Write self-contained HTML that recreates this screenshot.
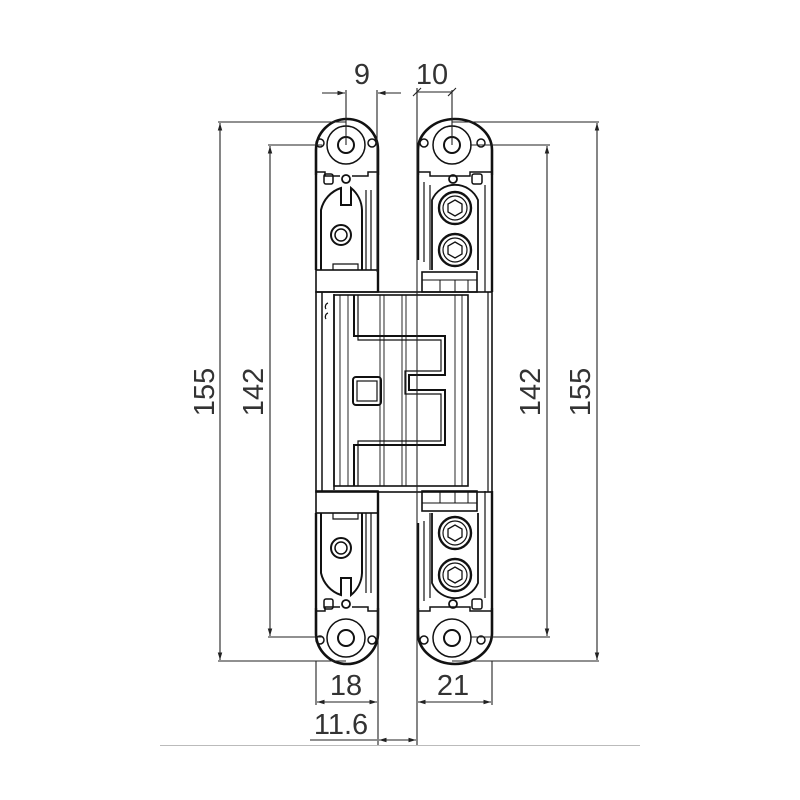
<!DOCTYPE html>
<html><head><meta charset="utf-8"><style>
html,body{margin:0;padding:0;background:#fff}
svg{display:block}
text{font-family:"Liberation Sans",sans-serif;fill:#333}
</style></head><body>
<svg width="800" height="800" viewBox="0 0 800 800" xmlns="http://www.w3.org/2000/svg">
<defs>
<marker id="a" viewBox="0 0 10 10" refX="10" refY="5" markerWidth="7" markerHeight="7" orient="auto-start-reverse"><path d="M0,2 L10,5 L0,8 z" fill="#222"/></marker>
<g id="top" fill="none" stroke="#111">
  <path d="M316,175 L316,150 A31,31 0 0 1 378,150 L378,175" stroke-width="2.6"/>
  <circle cx="346" cy="145" r="19" stroke-width="1.5"/>
  <circle cx="346" cy="145" r="8" stroke-width="2"/>
  <circle cx="320" cy="143" r="4" stroke-width="1.5"/>
  <circle cx="372" cy="143" r="4" stroke-width="1.5"/>
  <circle cx="346" cy="179" r="4" stroke-width="1.8"/>
  <path d="M316,172 L325,172 L325,176 L340,176 M352,176 L368,176 L368,172 L378,172" stroke-width="1.5"/>
  <rect x="324" y="174" width="9" height="10" rx="2" stroke-width="1.5"/>
  <path d="M316,175 L316,270 M378,175 L378,292" stroke-width="2.4"/>
  <path d="M321,270 L321,210 A30,30 0 0 1 341,188 L341,205 L351,205 L351,188 A30,30 0 0 1 362,210 L362,270" stroke-width="2"/>
  <path d="M366,190 L366,270 M371,190 L371,270" stroke-width="1.2"/>
  <circle cx="341" cy="235" r="10" stroke-width="2"/>
  <circle cx="341" cy="235" r="6" stroke-width="1.5"/>
  <rect x="316" y="270" width="62" height="22" stroke-width="1.6"/>
  <path d="M333,270 L333,264 L358,264 L358,270" stroke-width="1.2"/>
  <path d="M418,175 L418,150 A37,31 0 0 1 492,150 L492,175" stroke-width="2.6"/>
  <circle cx="452" cy="145" r="19" stroke-width="1.5"/>
  <circle cx="452" cy="145" r="8" stroke-width="2"/>
  <circle cx="424" cy="143" r="4" stroke-width="1.5"/>
  <circle cx="481" cy="143" r="4" stroke-width="1.5"/>
  <circle cx="453" cy="179" r="4" stroke-width="1.8"/>
  <path d="M418,172 L430,172 L430,176 L470,176 L470,172 L492,172" stroke-width="1.5"/>
  <rect x="472" y="174" width="10" height="10" rx="2" stroke-width="1.5"/>
  <path d="M418,175 L418,260 M492,175 L492,292" stroke-width="2.4"/>
  <path d="M424,182 L424,262 M430,185 L430,270 M485,185 L485,292" stroke-width="1.2"/>
  <path d="M432,270 L432,200 A25,25 0 0 1 478,200 L478,270" stroke-width="1.8"/>
  <circle cx="455" cy="208" r="16" stroke-width="2.4"/>
  <circle cx="455" cy="208" r="12" stroke-width="1.2"/>
  <path d="M455,200 L462,204 L462,212 L455,216 L448,212 L448,204 Z" stroke-width="1.3"/>
  <circle cx="455" cy="250" r="16" stroke-width="2.4"/>
  <circle cx="455" cy="250" r="12" stroke-width="1.2"/>
  <path d="M455,242 L462,246 L462,254 L455,258 L448,254 L448,246 Z" stroke-width="1.3"/>
  <rect x="422" y="272" width="55" height="20" stroke-width="1.6"/>
  <path d="M422,280 L477,280 M440,280 L440,292 M455,280 L455,292 M468,280 L468,292" stroke-width="1"/>
</g>
</defs>

<use href="#top"/>
<use href="#top" transform="translate(0,783) scale(1,-1)"/>

<g fill="none" stroke="#111">
  <rect x="316" y="292" width="176" height="200" stroke-width="1.6"/>
  <path d="M322,292 L322,492 M334,294 L334,490" stroke-width="1.5"/>
  <rect x="334" y="295" width="134" height="191" stroke-width="1.6"/>
  <path d="M340,295 L340,486 M348,295 L348,486 M380,295 L380,486 M384,295 L384,486 M402,295 L402,486 M406,295 L406,486 M455,295 L455,486 M462,295 L462,486" stroke-width="0.9"/>
  <path d="M488,292 L488,492" stroke-width="1.2"/>
  <path d="M354,295 L354,336 L445,336 L445,375 L409,375 L409,390 L445,390 L445,445 L354,445 L354,486" stroke-width="2"/>
  <path d="M358,295 L358,340 L441,340 L441,371 L405,371 L405,394 L441,394 L441,441 L358,441 L358,486" stroke-width="1.2"/>
  <rect x="353" y="377" width="28" height="28" rx="3" stroke-width="2"/>
  <rect x="357" y="381" width="20" height="20" stroke-width="1.2"/>
  <path d="M328,303 a4,4 0 0 0 -2,6 M328,313 a4,4 0 0 0 -2,6" stroke-width="1.2"/>
</g>

<g stroke="#222" stroke-width="1.1" fill="none">
  <path d="M218,122 L346,122 M218,661 L346,661"/>
  <path d="M220,123 L220,660" marker-start="url(#a)" marker-end="url(#a)"/>
  <path d="M268,145 L322,145 M268,637 L322,637"/>
  <path d="M270,146 L270,636" marker-start="url(#a)" marker-end="url(#a)"/>
  <path d="M470,145 L550,145 M470,637 L550,637"/>
  <path d="M547,146 L547,636" marker-start="url(#a)" marker-end="url(#a)"/>
  <path d="M452,122 L599,122 M452,661 L599,661"/>
  <path d="M597,123 L597,660" marker-start="url(#a)" marker-end="url(#a)"/>
  <path d="M346,90 L346,145 M377,90 L377,272"/>
  <path d="M322,93 L345,93" marker-end="url(#a)"/>
  <path d="M401,93 L378,93" marker-end="url(#a)"/>
  <path d="M417,88 L417,745 M452,90 L452,145"/>
  <path d="M417,92 L452,92 M413,96 L421,88 M448,96 L456,88"/>
  <path d="M316,661 L316,705 M378,600 L378,745"/>
  <path d="M317,702 L377,702" marker-start="url(#a)" marker-end="url(#a)"/>
  <path d="M492,661 L492,705"/>
  <path d="M418,702 L491,702" marker-start="url(#a)" marker-end="url(#a)"/>
  <path d="M310,740 L377,740"/>
  <path d="M379,740 L416,740" marker-start="url(#a)" marker-end="url(#a)"/>
</g>
<line x1="160" y1="745.5" x2="640" y2="745.5" stroke="#bbb" stroke-width="1"/>

<g font-size="29">
  <text x="362" y="84" text-anchor="middle">9</text>
  <text x="432" y="84" text-anchor="middle">10</text>
  <text x="346" y="695" text-anchor="middle">18</text>
  <text x="453" y="695" text-anchor="middle">21</text>
  <text x="341" y="734" text-anchor="middle">11.6</text>
  <text transform="translate(214,392) rotate(-90)" text-anchor="middle">155</text>
  <text transform="translate(263,392) rotate(-90)" text-anchor="middle">142</text>
  <text transform="translate(540,392) rotate(-90)" text-anchor="middle">142</text>
  <text transform="translate(590,392) rotate(-90)" text-anchor="middle">155</text>
</g>
</svg>
</body></html>
